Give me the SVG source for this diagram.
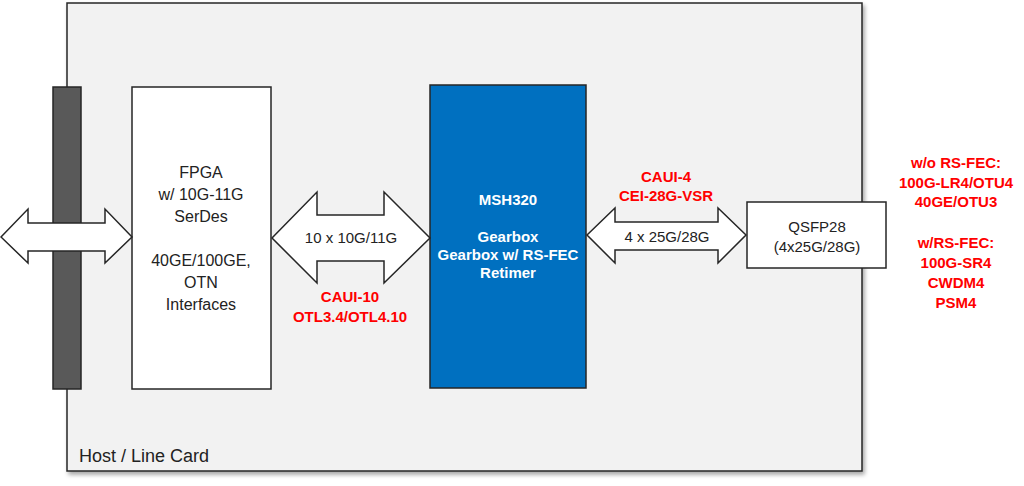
<svg xmlns="http://www.w3.org/2000/svg" width="1024" height="486" viewBox="0 0 1024 486">
<defs>
<filter id="sh" x="-5%" y="-5%" width="110%" height="110%">
<feDropShadow dx="2" dy="3" stdDeviation="2" flood-color="#000" flood-opacity="0.35"/>
</filter>
<style>
.t{font-family:"Liberation Sans",Arial,sans-serif;fill:#222;text-anchor:middle}
.red{font-family:"Liberation Sans",Arial,sans-serif;fill:#ff0000;font-weight:bold;text-anchor:middle;font-size:15px}
.w{font-family:"Liberation Sans",Arial,sans-serif;fill:#ffffff;font-weight:bold;text-anchor:middle;font-size:15px}
.box{stroke:#262626;stroke-width:1.5}
.arr{fill:#ffffff;stroke:#262626;stroke-width:1.5;stroke-linejoin:miter}
</style>
</defs>
<rect width="1024" height="486" fill="#ffffff"/>
<g id="host">
<rect x="67" y="3" width="795" height="468" fill="#f2f2f2" class="box" filter="url(#sh)"/>
<text class="t" x="79" y="462" font-size="18" text-anchor="start" style="text-anchor:start">Host / Line Card</text>
</g>
<g id="backplane">
<rect x="53" y="87" width="28" height="302" fill="#595959" class="box"/>
</g>
<g id="fpga">
<rect x="132" y="87" width="139" height="302" fill="#ffffff" class="box"/>
<g class="t" font-size="16">
<text x="201" y="178">FPGA</text>
<text x="201" y="200">w/ 10G-11G</text>
<text x="201" y="222">SerDes</text>
<text x="201" y="266">40GE/100GE,</text>
<text x="201" y="288">OTN</text>
<text x="201" y="310">Interfaces</text>
</g>
</g>
<g id="msh320">
<rect x="430" y="85" width="156" height="303" fill="#0070c0" class="box"/>
<text class="w" x="508" y="205">MSH320</text>
<text class="w" x="508" y="242">Gearbox</text>
<text class="w" x="508" y="260">Gearbox w/ RS-FEC</text>
<text class="w" x="508" y="278">Retimer</text>
</g>
<g id="qsfp28">
<rect x="747" y="202" width="139" height="66" fill="#ffffff" class="box"/>
<text class="t" font-size="15" x="817" y="232">QSFP28</text>
<text class="t" font-size="15" x="817" y="252">(4x25G/28G)</text>
</g>
<g id="connectors">
<polygon class="arr" points="1,237 28,209 28,223 105,223 105,209 132,237 105,263 105,251 28,251 28,263"/>
<polygon class="arr" points="272,238 317,192 317,215 384,215 384,192 430,238 384,283 384,261 317,261 317,283"/>
<polygon class="arr" points="587,235 615,208 615,222 718,222 718,208 746,235 718,263 718,250 615,250 615,263"/>
<text class="t" font-size="15" x="351" y="243">10 x 10G/11G</text>
<text class="t" font-size="15" x="667" y="242">4 x 25G/28G</text>
</g>
<g id="labels">
<text class="red" x="350" y="302">CAUI-10</text>
<text class="red" x="350" y="322">OTL3.4/OTL4.10</text>
<text class="red" x="666" y="182">CAUI-4</text>
<text class="red" x="666" y="201">CEI-28G-VSR</text>
<text class="red" x="956" y="168">w/o RS-FEC:</text>
<text class="red" x="956" y="188">100G-LR4/OTU4</text>
<text class="red" x="956" y="207">40GE/OTU3</text>
<text class="red" x="956" y="248">w/RS-FEC:</text>
<text class="red" x="956" y="268">100G-SR4</text>
<text class="red" x="956" y="288">CWDM4</text>
<text class="red" x="956" y="308">PSM4</text>
</g>
</svg>
